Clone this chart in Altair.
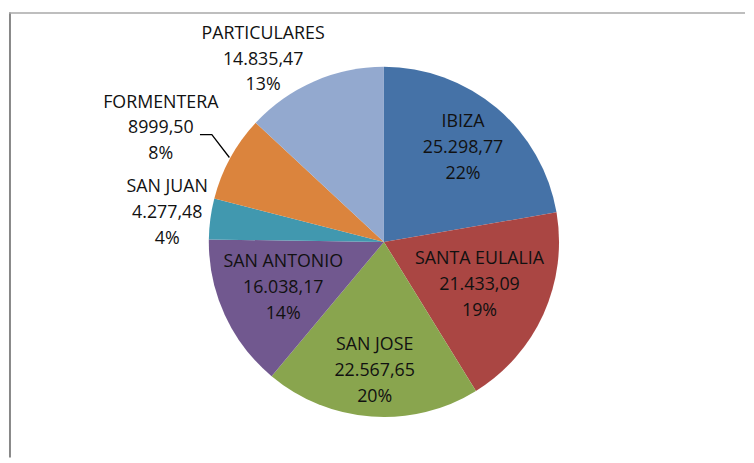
import altair as alt
import pandas as pd

names = ["IBIZA", "SANTA EULALIA", "SAN JOSE", "SAN ANTONIO", "SAN JUAN", "FORMENTERA", "PARTICULARES"]
values = [25298.77, 21433.09, 22567.65, 16038.17, 4277.48, 8999.50, 14835.47]
value_labels = ["25.298,77", "21.433,09", "22.567,65", "16.038,17", "4.277,48", "8999,50", "14.835,47"]
colors = ["#4572A7", "#AA4643", "#89A54E", "#71588F", "#4198AF", "#DB843D", "#93A9CF"]

df = pd.DataFrame({"name": names, "value": values, "vlabel": value_labels, "idx": list(range(len(names)))})

W, H = 744, 452
CX, CY, R = 379, 234, 177

one = alt.InlineData(values=[{"a": 1}])
frame_left = alt.Chart(one).mark_rule(color="#878787", strokeWidth=2).encode(
    x=alt.value(1), y=alt.value(2), y2=alt.value(H))
frame_top = alt.Chart(one).mark_rule(color="#a9a9a9", strokeWidth=1.5).encode(
    y=alt.value(2.5), x=alt.value(0), x2=alt.value(W))

base = alt.Chart(df)

arc = base.mark_arc(outerRadius=R).encode(
    theta=alt.Theta("value:Q", stack=True),
    color=alt.Color("name:N", scale=alt.Scale(domain=names, range=colors), legend=None),
    order=alt.Order("idx:Q"),
    x=alt.value(CX), y=alt.value(CY),
)

geo = base.transform_joinaggregate(total="sum(value)").transform_window(
    cum="sum(value)", sort=[alt.SortField("idx")], frame=[None, 0]
).transform_calculate(
    mid="2*PI*(datum.cum - datum.value/2)/datum.total",
    pct="format(datum.value/datum.total, '.0%')",
)

lab = geo.transform_calculate(
    lr="datum.name=='IBIZA' ? 124 : datum.name=='SANTA EULALIA' ? 106 : datum.name=='SAN JOSE' ? 131 : "
       "datum.name=='SAN ANTONIO' ? 112 : datum.name=='FORMENTERA' ? 253 : 221",
    la="datum.mid + (datum.name=='PARTICULARES' ? -10 : datum.name=='FORMENTERA' ? -1.7 : 0)*PI/180",
    lx=f"{CX} + datum.lr*sin(datum.la)",
    ly=f"{CY} - datum.lr*cos(datum.la)",
    lines="[datum.name, datum.vlabel, datum.pct]",
)

text = lab.mark_text(font="Open Sans", fontSize=18, lineHeight=26, align="center",
                     baseline="middle", dy=-26, color="#111111").encode(
    x=alt.X("lx:Q", scale=None), y=alt.Y("ly:Q", scale=None), text="lines:N")

leader = geo.transform_filter("datum.name=='FORMENTERA'").transform_calculate(
    k="[0,1,2]").transform_flatten(["k"]).transform_calculate(
    pr="datum.k==0 ? 178 : 205",
    pa="datum.k==0 ? datum.mid : datum.mid + 3.3*PI/180",
    px=f"{CX} + datum.pr*sin(datum.pa) - (datum.k==2 ? 12 : 0)",
    py=f"{CY} - datum.pr*cos(datum.pa)",
).mark_line(color="black", strokeWidth=1.3).encode(
    x=alt.X("px:Q", scale=None), y=alt.Y("py:Q", scale=None), order="k:Q")

chart = alt.layer(frame_left, frame_top, arc, leader, text).properties(
    width=W, height=H, padding=0, background="white"
).configure_view(stroke=None)

chart.save("out.html", embed_options={"renderer": "svg", "actions": False})
